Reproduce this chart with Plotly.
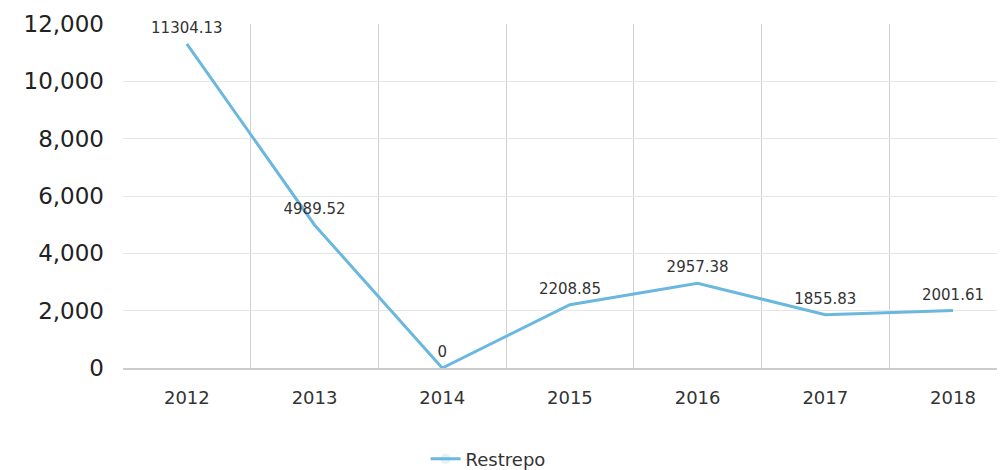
import plotly.graph_objects as go

years = ["2012", "2013", "2014", "2015", "2016", "2017", "2018"]
restrepo = [11304.13, 4989.52, 0, 2208.85, 2957.38, 1855.83, 2001.61]
labels = ["11304.13", "4989.52", "0", "2208.85", "2957.38", "1855.83", "2001.61"]
y_ticks = [0, 2000, 4000, 6000, 8000, 10000, 12000]

fig = go.Figure()
fig.add_trace(go.Scatter(
    x=years, y=restrepo, name="Restrepo",
    mode="lines+markers+text", text=labels, textposition="top center",
    textfont=dict(family="DejaVu Sans", size=15, color="#333333"),
    line=dict(color="#6bb8de", width=3),
    marker=dict(size=10, opacity=0),
    cliponaxis=False,
))

# page has an 8px body margin, so everything is shifted by -8
fig.update_layout(
    width=1005, height=470,
    margin=dict(l=115, r=0, t=16, b=110),
    plot_bgcolor="white", paper_bgcolor="white",
    showlegend=True,
    legend=dict(
        orientation="h", x=0.34, xanchor="left", y=-0.265, yanchor="middle",
        font=dict(family="DejaVu Sans", size=18, color="#333333"),
    ),
    xaxis=dict(
        type="category", range=[-0.5, 6.47],
        tickson="boundaries", showgrid=True, gridcolor="#d0d0d0", gridwidth=1,
        ticks="", ticklabelstandoff=12,
        tickfont=dict(family="DejaVu Sans", size=18, color="#333333"),
        showline=True, linecolor="#cccccc", linewidth=2,
    ),
    yaxis=dict(
        range=[0, 12000], tickvals=y_ticks, tickformat=",d",
        showgrid=True, gridcolor="#e6e6e6", gridwidth=1,
        zeroline=False, ticks="", ticklabelstandoff=18,
        tickfont=dict(family="DejaVu Sans", size=23, color="#222222"),
    ),
)

fig.write_html("out.html")
